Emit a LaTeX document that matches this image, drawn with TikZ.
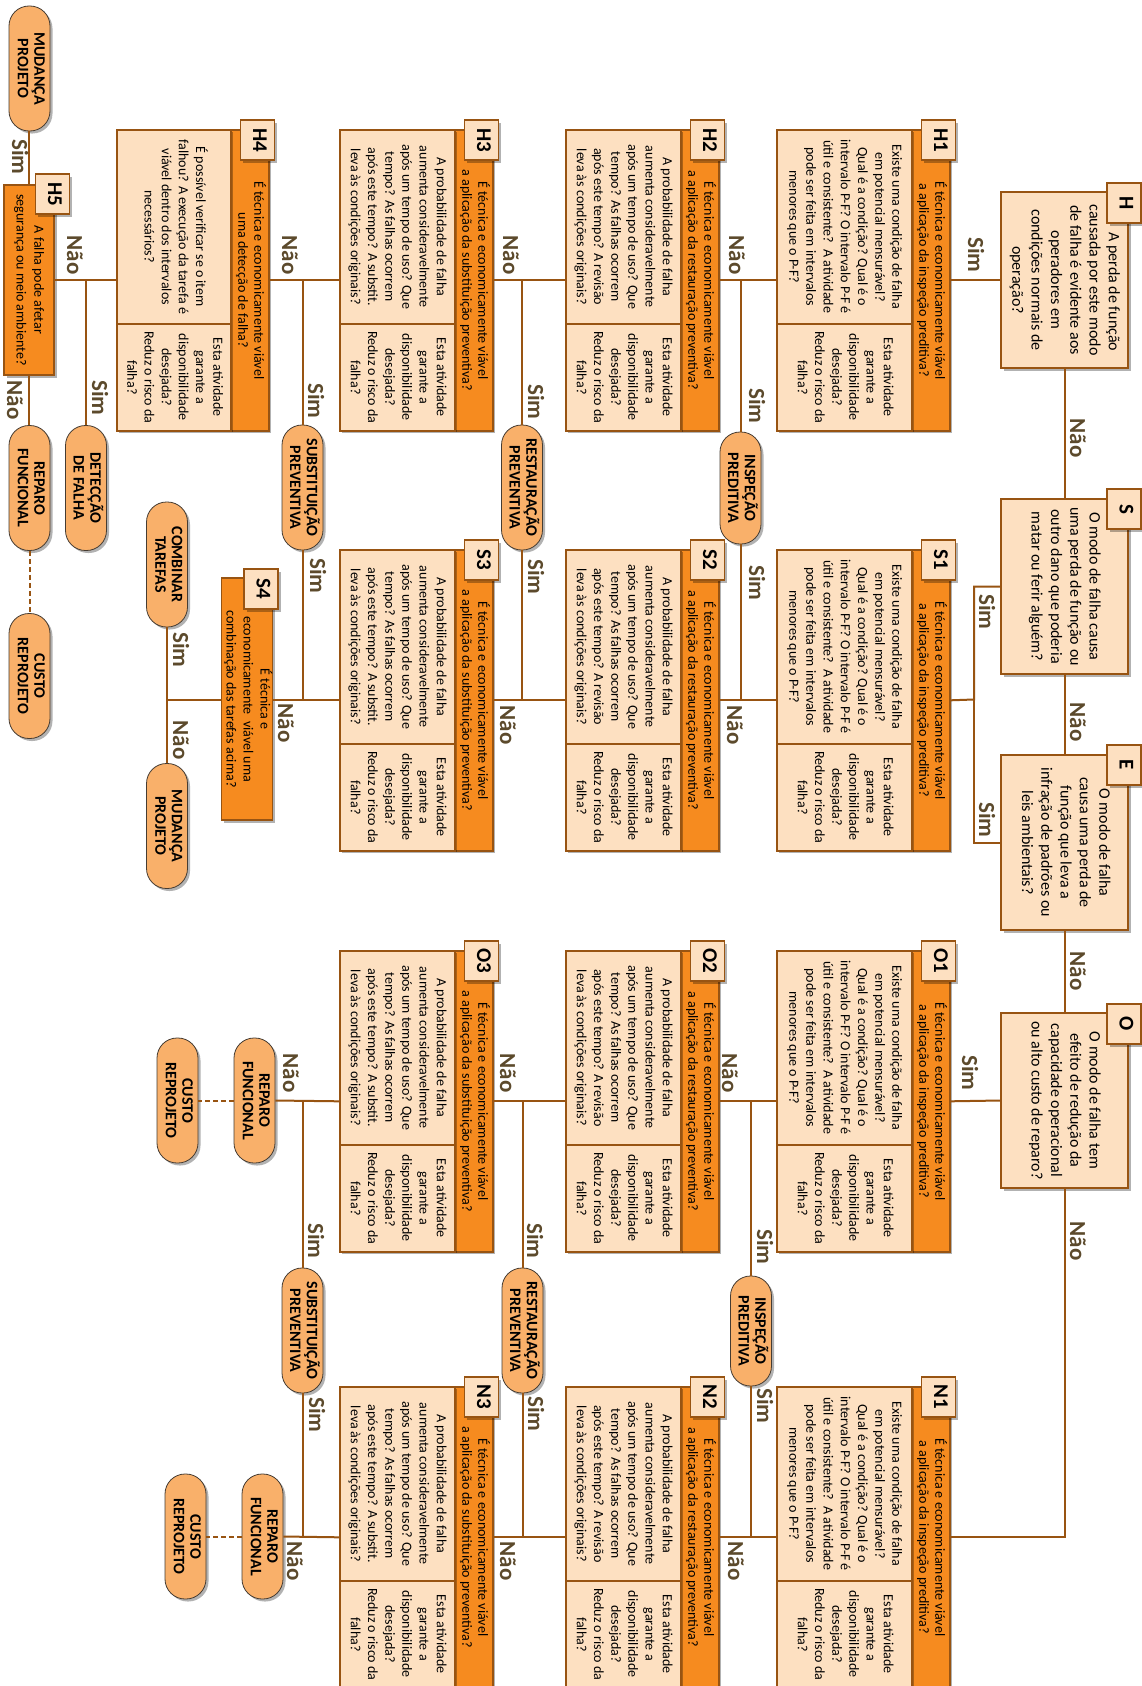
\documentclass[tikz,border=0pt]{standalone}
\usepackage{fontspec}
\setmainfont{Carlito}
\usepackage{graphicx}
\usetikzlibrary{shadows}
\definecolor{stripor}{RGB}{246,139,31}
\definecolor{peach}{RGB}{253,224,193}
\definecolor{brn}{RGB}{152,84,18}
\definecolor{termfill}{RGB}{249,176,106}
\definecolor{termline}{RGB}{70,60,50}
\definecolor{yncol}{RGB}{92,74,44}
\newcommand\rt[2]{\rotatebox{-90}{#1\begin{tabular}{@{}c@{}}#2\end{tabular}}}
\newcommand\qfont{\fontsize{14}{17.2}\selectfont}
\newcommand\hfont{\fontsize{14}{16}\selectfont}
\newcommand\dfont{\fontsize{16}{19.3}\selectfont}
\newcommand\tfont{\bfseries\fontsize{16}{16.6}\selectfont}
\newcommand\idfont{\bfseries\fontsize{21}{22}\selectfont}
\newcommand\ynfont{\bfseries\fontsize{23}{24}\selectfont}
\newcommand\txthA{É técnica e economicamente viável\\a aplicação da inspeção preditiva?}
\newcommand\txthB{É técnica e economicamente viável\\a aplicação da restauração preventiva?}
\newcommand\txthC{É técnica e economicamente viável\\a aplicação da substituição preventiva?}
\newcommand\txthD{É técnica e economicamente viável\\uma detecção de falha?}
\newcommand\txtqA{Existe uma condição de falha\\em potencial mensurável?\\Qual é a condição? Qual é o\\intervalo P-F? O intervalo P-F é\\útil e consistente?\ \ A atividade\\pode ser feita em intervalos\\menores que o P-F?}
\newcommand\txtqB{A probabilidade de falha\\aumenta consideravelmente\\após um tempo de uso? Que\\tempo? As falhas ocorrem\\após este tempo? A revisão\\leva às condições originais?}
\newcommand\txtqC{A probabilidade de falha\\aumenta consideravelmente\\após um tempo de uso? Que\\tempo? As falhas ocorrem\\após este tempo? A substit.\\leva às condições originais?}
\newcommand\txtqD{É possível verificar se o item\\falhou? A execução da tarefa é\\viável dentro dos intervalos\\necessários?}
\newcommand\txtans{Esta atividade\\garante a\\disponibilidade\\desejada?\\Reduz o risco da\\falha?}
\tikzset{
  shad/.style={drop shadow={shadow xshift=2.5pt,shadow yshift=-2.5pt,opacity=0.3,fill=black}},
  stripbox/.style={draw=brn,line width=1.6pt,fill=stripor,inner sep=0pt,shad},
  peachbox/.style={draw=brn,line width=1.6pt,fill=peach,inner sep=0pt,shad},
  idbox/.style={peachbox,minimum width=34pt,minimum height=40pt},
  decbox/.style={peachbox,minimum width=127pt,minimum height=176pt},
  termbox/.style={draw=termline,line width=0.8pt,fill=termfill,rounded corners=20pt,
     minimum width=41pt,minimum height=125pt,inner sep=0pt,shad},
  conn/.style={draw=brn,line width=2pt},
  dashconn/.style={conn,dash pattern=on 5pt off 3pt},
  yn/.style={text=yncol,inner sep=0pt}
}
% #1 name, #2 left x, #3 box width, #4 top y, #5 id, #6 header, #7 question, #8 answer
\newcommand\taskblk[8]{%
  \node[stripbox,minimum width=38pt,minimum height=301pt,anchor=north west] (#1s) at ({#2+#3},#4) {\rt\hfont{#6}};
  \node[peachbox,minimum width=#3pt,minimum height=194pt,anchor=north west] (#1q) at (#2,#4) {\rt\qfont{#7}};
  \node[peachbox,minimum width=#3pt,minimum height=107pt,anchor=north west] (#1a) at (#2,{#4+194}) {\rt\qfont{#8}};
  \node[idbox] (#1l) at ({#2+#3+27.5},{#4+11}) {\rt\idfont{#5}};
}
\begin{document}
\begin{tikzpicture}[x=1pt,y=-1pt]
\useasboundingbox (0,0) rectangle (1142,1686);
\fill[white] (0,0) rectangle (1142,1686);

% decision boxes
\node[decbox] (H) at (1064.5,280) {\rt\dfont{\hspace{24pt}A perda de função\\causada por este modo\\de falha é evidente aos\\operadores em\\condições normais de\\operação?}};
\node[idbox] (Hl) at (1124,203) {\rt\idfont{H}};
\node[decbox,minimum height=175pt] (S) at (1064.5,586.5) {\rt\dfont{O modo de falha causa\\uma perda de função ou\\outro dano que poderia\\matar ou ferir alguém?}};
\node[idbox] (Sl) at (1124,509) {\rt\idfont{S}};
\node[decbox,minimum height=175pt] (E) at (1064.5,842.5) {\rt\dfont{O modo de falha\\causa uma perda de\\função que leva a\\infração de padrões ou\\leis ambientais?}};
\node[idbox] (El) at (1124,765) {\rt\idfont{E}};
\node[decbox,minimum height=175pt] (O) at (1064.5,1100.5) {\rt\dfont{O modo de falha tem\\efeito de redução da\\capacidade operacional\\ou alto custo de reparo?}};
\node[idbox] (Ol) at (1124,1024) {\rt\idfont{O}};

% task blocks
\taskblk{H1}{776}{135}{129}{H1}{\txthA}{\txtqA}{\txtans}
\taskblk{H2}{565}{115}{129}{H2}{\txthB}{\txtqB}{\txtans}
\taskblk{H3}{339}{115}{129}{H3}{\txthC}{\txtqC}{\txtans}
\taskblk{H4}{116}{114}{129}{H4}{\txthD}{\txtqD}{\txtans}
\taskblk{S1}{776}{135}{549}{S1}{\txthA}{\txtqA}{\txtans}
\taskblk{S2}{565}{115}{549}{S2}{\txthB}{\txtqB}{\txtans}
\taskblk{S3}{339}{115}{549}{S3}{\txthC}{\txtqC}{\txtans}
\taskblk{O1}{776}{135}{950}{O1}{\txthA}{\txtqA}{\txtans}
\taskblk{O2}{565}{115}{950}{O2}{\txthB}{\txtqB}{\txtans}
\taskblk{O3}{339}{115}{950}{O3}{\txthC}{\txtqC}{\txtans}
\taskblk{N1}{776}{135}{1386}{N1}{\txthA}{\txtqA}{\txtans}
\taskblk{N2}{565}{115}{1386}{N2}{\txthB}{\txtqB}{\txtans}
\taskblk{N3}{339}{115}{1386}{N3}{\txthC}{\txtqC}{\txtans}

% H5 and S4
\node[stripbox,minimum width=50pt,minimum height=190pt] (H5) at (29,280) {\rt{\fontsize{14}{17.7}\selectfont}{A falha pode afetar\\segurança ou meio ambiente?}};
\node[idbox] (H5l) at (52.5,194) {\rt\idfont{H5}};
\node[stripbox,minimum width=50pt,minimum height=242pt] (S4) at (247,699) {\rt{\fontsize{14}{17}\selectfont}{É técnica e\\economicamente\ \ viável uma\\combinação das tarefas acima?}};
\node[idbox] (S4l) at (261,589) {\rt\idfont{S4}};

% terminals
\node[termbox] (MP1) at (29.5,68.5) {\rt\tfont{MUDANÇA\\PROJETO}};
\node[termbox] (RF1) at (29.5,488) {\rt\tfont{REPARO\\FUNCIONAL}};
\node[termbox] (DF) at (86,488) {\rt\tfont{DETECÇÃO\\DE FALHA}};
\node[termbox] (CR1) at (29.5,676) {\rt\tfont{CUSTO\\REPROJETO}};
\node[termbox] (SP1) at (302.5,487.5) {\rt\tfont{SUBSTITUIÇÃO\\PREVENTIVA}};
\node[termbox] (RP1) at (522,487.5) {\rt\tfont{RESTAURAÇÃO\\PREVENTIVA}};
\node[termbox,minimum height=112pt] (IP1) at (740.5,488) {\rt\tfont{INSPEÇÃO\\PREDITIVA}};
\node[termbox] (CT) at (167,564.5) {\rt\tfont{COMBINAR\\TAREFAS}};
\node[termbox] (MP2) at (167,826) {\rt\tfont{MUDANÇA\\PROJETO}};
\node[termbox] (RF2) at (254.5,1100.5) {\rt\tfont{REPARO\\FUNCIONAL}};
\node[termbox] (CR2) at (177.5,1100.5) {\rt\tfont{CUSTO\\REPROJETO}};
\node[termbox] (SP2) at (302.5,1330.5) {\rt\tfont{SUBSTITUIÇÃO\\PREVENTIVA}};
\node[termbox] (RP2) at (522.5,1330.5) {\rt\tfont{RESTAURAÇÃO\\PREVENTIVA}};
\node[termbox,minimum height=110pt] (IP2) at (751,1331) {\rt\tfont{INSPEÇÃO\\PREDITIVA}};
\node[termbox] (RF3) at (262.5,1536.5) {\rt\tfont{REPARO\\FUNCIONAL}};
\node[termbox] (CR3) at (185.5,1536.5) {\rt\tfont{CUSTO\\REPROJETO}};

% main spine
\coordinate (jSE) at (974,699.5);
\draw[conn] (H.west) -- (H.west -| H1s.east);
\draw[conn] (H.south) -- (S.north);
\draw[conn] (S.south) -- (E.north);
\draw[conn] (E.south) -- (O.north);
\draw[conn] (O.south) |- (N1s.east);
\draw[conn] (S.west) -| (jSE) -- (S1s.east);
\draw[conn] (E.west) -| (jSE);
\draw[conn] (O.west) -- (O1s.east);

% row H
\draw[conn] (H1q.west |- H1s.east) -- (H2s.east);
\draw[conn] (IP1.north |- H1s.east) -- (IP1.north);
\draw[conn] (H2q.west |- H2s.east) -- (H3s.east);
\draw[conn] (RP1.north |- H2s.east) -- (RP1.north);
\draw[conn] (H3q.west |- H3s.east) -- (H4s.east);
\draw[conn] (SP1.north |- H3s.east) -- (SP1.north);
\draw[conn] (H4q.west |- H4s.east) -- (H5.east |- H4s.east);
\draw[conn] (DF.north |- H4s.east) -- (DF.north);
\draw[conn] (H5.north) -- (H5.north |- MP1.south);
\draw[conn] (H5.south) -- (H5.south |- RF1.north);
\draw[dashconn] (RF1.south) -- (CR1.north);
% row S
\draw[conn] (S1q.west |- S1s.east) -- (S2s.east);
\draw[conn] (IP1.south) -- (IP1.south |- S1s.east);
\draw[conn] (S2q.west |- S2s.east) -- (S3s.east);
\draw[conn] (RP1.south) -- (RP1.south |- S2s.east);
\draw[conn] (S3q.west |- S3s.east) -- (S4.east |- S3s.east);
\draw[conn] (SP1.south) -- (SP1.south |- S3s.east);
\draw[conn] (S4.west |- S3s.east) -- (CT.south |- S3s.east);
\draw[conn] (CT.south) -- (MP2.north);
% row O
\draw[conn] (O1q.west |- O1s.east) -- (O2s.east);
\draw[conn] (IP2.north |- O1s.east) -- (IP2.north);
\draw[conn] (O2q.west |- O2s.east) -- (O3s.east);
\draw[conn] (RP2.north |- O2s.east) -- (RP2.north);
\draw[conn] (O3q.west |- O3s.east) -- (RF2.east);
\draw[conn] (SP2.north |- O3s.east) -- (SP2.north);
\draw[dashconn] (RF2.west) -- (CR2.east);
% row N
\draw[conn] (N1q.west |- N1s.east) -- (N2s.east);
\draw[conn] (IP2.south) -- (IP2.south |- N1s.east);
\draw[conn] (N2q.west |- N2s.east) -- (N3s.east);
\draw[conn] (RP2.south) -- (RP2.south |- N2s.east);
\draw[conn] (N3q.west |- N3s.east) -- (RF3.east);
\draw[conn] (SP2.south) -- (SP2.south |- N3s.east);
\draw[dashconn] (RF3.west) -- (CR3.east);

% Sim / Não labels
\node[yn] (ynHS) at (973,255) {\rt\ynfont{Sim}};
\node[yn] (ynHN) at (1075,438) {\rt\ynfont{Não}};
\node[yn] (ynSN) at (1075,722) {\rt\ynfont{Não}};
\node[yn] (ynEN) at (1075,971) {\rt\ynfont{Não}};
\node[yn] (ynON) at (1075,1241) {\rt\ynfont{Não}};
\node[yn] (ynSS) at (984,612) {\rt\ynfont{Sim}};
\node[yn] (ynES) at (984,820) {\rt\ynfont{Sim}};
\node[yn] (ynOS) at (967,1073) {\rt\ynfont{Sim}};
\node[yn] (ynH1N) at (734,255) {\rt\ynfont{Não}};
\node[yn] (ynH1S) at (754,406) {\rt\ynfont{Sim}};
\node[yn] (ynH2N) at (508,255) {\rt\ynfont{Não}};
\node[yn] (ynH2S) at (533,402) {\rt\ynfont{Sim}};
\node[yn] (ynH3N) at (287,255) {\rt\ynfont{Não}};
\node[yn] (ynH3S) at (313,401) {\rt\ynfont{Sim}};
\node[yn] (ynH4N) at (72,255) {\rt\ynfont{Não}};
\node[yn] (ynH4S) at (97,398) {\rt\ynfont{Sim}};
\node[yn] (ynH5S) at (17,157) {\rt\ynfont{Sim}};
\node[yn] (ynH5N) at (12,400) {\rt\ynfont{Não}};
\node[yn] (ynS1N) at (732,725) {\rt\ynfont{Não}};
\node[yn] (ynS1S) at (754,583) {\rt\ynfont{Sim}};
\node[yn] (ynS2N) at (505,725) {\rt\ynfont{Não}};
\node[yn] (ynS2S) at (533,577) {\rt\ynfont{Sim}};
\node[yn] (ynS3N) at (283,723) {\rt\ynfont{Não}};
\node[yn] (ynS3S) at (315,576) {\rt\ynfont{Sim}};
\node[yn] (ynS4S) at (178,650) {\rt\ynfont{Sim}};
\node[yn] (ynS4N) at (178,740) {\rt\ynfont{Não}};
\node[yn] (ynO1N) at (727,1073) {\rt\ynfont{Não}};
\node[yn] (ynO1S) at (762,1247) {\rt\ynfont{Sim}};
\node[yn] (ynO2N) at (505,1073) {\rt\ynfont{Não}};
\node[yn] (ynO2S) at (532,1241) {\rt\ynfont{Sim}};
\node[yn] (ynO3N) at (288,1073) {\rt\ynfont{Não}};
\node[yn] (ynO3S) at (313,1241) {\rt\ynfont{Sim}};
\node[yn] (ynN1N) at (733,1561) {\rt\ynfont{Não}};
\node[yn] (ynN1S) at (762,1406) {\rt\ynfont{Sim}};
\node[yn] (ynN2N) at (505,1561) {\rt\ynfont{Não}};
\node[yn] (ynN2S) at (533,1414) {\rt\ynfont{Sim}};
\node[yn] (ynN3N) at (292,1561) {\rt\ynfont{Não}};
\node[yn] (ynN3S) at (314,1415) {\rt\ynfont{Sim}};
\end{tikzpicture}
\end{document}
